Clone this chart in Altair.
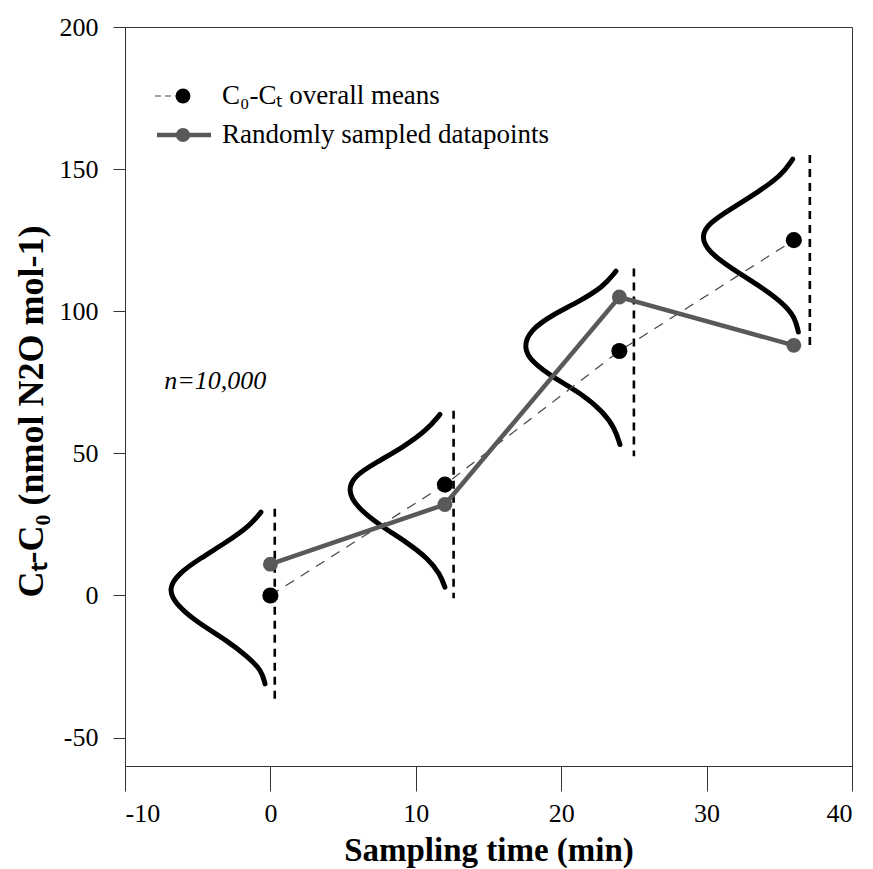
import altair as alt
import pandas as pd

# ---- data ----
mean_time = [0, 12, 24, 36]
mean_value = [0, 39, 86, 125]

sample_time = [0, 12, 24, 36]
sample_value = [11, 32, 105, 88]

# vertical dashed baselines of the distributions
base_x = [0.3, 12.6, 25.0, 37.1]
base_top = [30.5, 65.0, 115.0, 155.0]
base_bottom = [-37.0, -1.0, 49.0, 88.0]

# distribution curves
curve1_x = [-0.65, -1.40, -3.0, -4.84, -6.33, -7.02, -6.56, -5.07, -3.0, -1.52, -0.60, -0.37]
curve1_y = [29.3, 24.6, 18.8, 13.0, 7.7, 2.4, -2.8, -9.4, -15.8, -21.7, -26.4, -31.1]
curve2_x = [11.66, 10.75, 9.14, 7.31, 5.82, 5.29, 5.94, 7.54, 9.37, 10.86, 11.66, 12.0]
curve2_y = [63.7, 58.1, 52.2, 46.9, 42.3, 37.0, 31.1, 24.6, 18.8, 12.9, 7.6, 2.9]
curve3_x = [23.77, 22.9, 21.18, 19.35, 17.86, 17.39, 17.97, 19.57, 21.41, 22.9, 23.7, 24.04]
curve3_y = [114.1, 108.6, 103.3, 98.6, 93.3, 87.4, 82.1, 76.3, 71.0, 64.5, 58.7, 53.1]
curve4_x = [35.92, 35.17, 33.56, 31.73, 30.12, 29.61, 30.12, 31.73, 33.56, 35.17, 36.08, 36.31]
curve4_y = [153.5, 147.9, 142.0, 136.2, 130.9, 126.2, 120.9, 115.0, 109.2, 103.3, 98.0, 92.7]

x_ticks = [-10, 0, 10, 20, 30, 40]
y_ticks = [-50, 0, 50, 100, 150, 200]

FONT = "Liberation Serif"
GRAY = "#595959"

means_df = pd.DataFrame({"x": mean_time, "y": mean_value})
sample_df = pd.DataFrame({"x": sample_time, "y": sample_value})
base_df = pd.DataFrame({"x": base_x, "y": base_top, "y2": base_bottom})
rows = []
for cid, (cx, cy) in enumerate([(curve1_x, curve1_y), (curve2_x, curve2_y),
                                (curve3_x, curve3_y), (curve4_x, curve4_y)]):
    for i, (a, b) in enumerate(zip(cx, cy)):
        rows.append({"x": a, "y": b, "curve": cid, "order": i})
curve_df = pd.DataFrame(rows)
note_df = pd.DataFrame({"x": [-7.3], "y": [75.5], "label": ["n=10,000"]})

xscale = alt.Scale(domain=[-10, 40], nice=False, zero=False)
yscale = alt.Scale(domain=[-60, 200], nice=False, zero=False)

xaxis = alt.Axis(values=x_ticks, grid=False, tickSize=25, labelPadding=9,
                 labelFontSize=26, labelFont=FONT, labelColor="black",
                 labelExpr="'' + datum.value",
                 title="Sampling time (min)", titleFont=FONT, titleFontSize=33,
                 titleFontWeight="bold", titleColor="black", titlePadding=8,
                 domainColor="#333", tickColor="#333")
yaxis = alt.Axis(values=y_ticks, grid=False, tickSize=12, labelPadding=15,
                 labelFontSize=26, labelFont=FONT, labelColor="black",
                 labelExpr="'' + datum.value",
                 title="Cₜ-C₀ (nmol N2O mol-1)", titleFont=FONT, titleFontSize=36,
                 titleFontWeight="bold", titleColor="black",
                 titleX=-94, titleY=384, titleBaseline="middle",
                 domainColor="#333", tickColor="#333")


def X():
    return alt.X("x:Q", scale=xscale, axis=xaxis)


def Y():
    return alt.Y("y:Q", scale=yscale, axis=yaxis)


rules = alt.Chart(base_df).mark_rule(color="black", strokeWidth=2.6, strokeDash=[8, 6]).encode(
    x=X(), y=Y(), y2="y2:Q")

curves = alt.Chart(curve_df).mark_line(color="black", strokeWidth=5, interpolate="basis",
                                       strokeCap="round").encode(
    x=X(), y=Y(), detail="curve:N", order="order:Q")

mean_line = alt.Chart(means_df).mark_line(color="#444", strokeWidth=1.2, strokeDash=[10, 8]).encode(
    x=X(), y=Y())

sample_line = alt.Chart(sample_df).mark_line(color=GRAY, strokeWidth=4.5).encode(x=X(), y=Y())
sample_pts = alt.Chart(sample_df).mark_circle(color=GRAY, size=220, opacity=1).encode(x=X(), y=Y())
mean_pts = alt.Chart(means_df).mark_circle(color="black", size=260, opacity=1).encode(x=X(), y=Y())

note = alt.Chart(note_df).mark_text(font=FONT, fontSize=26, fontStyle="italic", align="left",
                                    baseline="middle", color="black").encode(
    x=X(), y=Y(), text="label:N")

# ---- manual legend (pixel positions inside plot area) ----
one = pd.DataFrame({"k": [0]})
leg1_line = alt.Chart(one).mark_rule(color="#444", strokeWidth=1.2, strokeDash=[6, 4]).encode(
    x=alt.value(30), x2=alt.value(52), y=alt.value(69))
leg1_pt = alt.Chart(one).mark_circle(color="black", size=220, opacity=1).encode(
    x=alt.value(58), y=alt.value(69))
leg1_txt = alt.Chart(one).mark_text(font=FONT, fontSize=27, align="left", baseline="middle",
                                    color="black").encode(
    x=alt.value(97), y=alt.value(69), text=alt.value("C₀-Cₜ overall means"))
leg2_line = alt.Chart(one).mark_rule(color=GRAY, strokeWidth=4.5).encode(
    x=alt.value(32), x2=alt.value(86), y=alt.value(108))
leg2_pt = alt.Chart(one).mark_circle(color=GRAY, size=200, opacity=1).encode(
    x=alt.value(58), y=alt.value(108))
leg2_txt = alt.Chart(one).mark_text(font=FONT, fontSize=27, align="left", baseline="middle",
                                    color="black").encode(
    x=alt.value(97), y=alt.value(108), text=alt.value("Randomly sampled datapoints"))

chart = alt.layer(
    rules, curves, mean_line, sample_line, mean_pts, sample_pts, note,
    leg1_line, leg1_pt, leg1_txt, leg2_line, leg2_pt, leg2_txt
).properties(
    width=727, height=739,
    autosize=alt.AutoSizeParams(type="none"),
    padding={"left": 125, "top": 27, "right": 21, "bottom": 103},
    background="white",
).configure_view(stroke="#333", strokeWidth=1)

chart.save("out.html", embed_options={"renderer": "svg", "actions": False})
